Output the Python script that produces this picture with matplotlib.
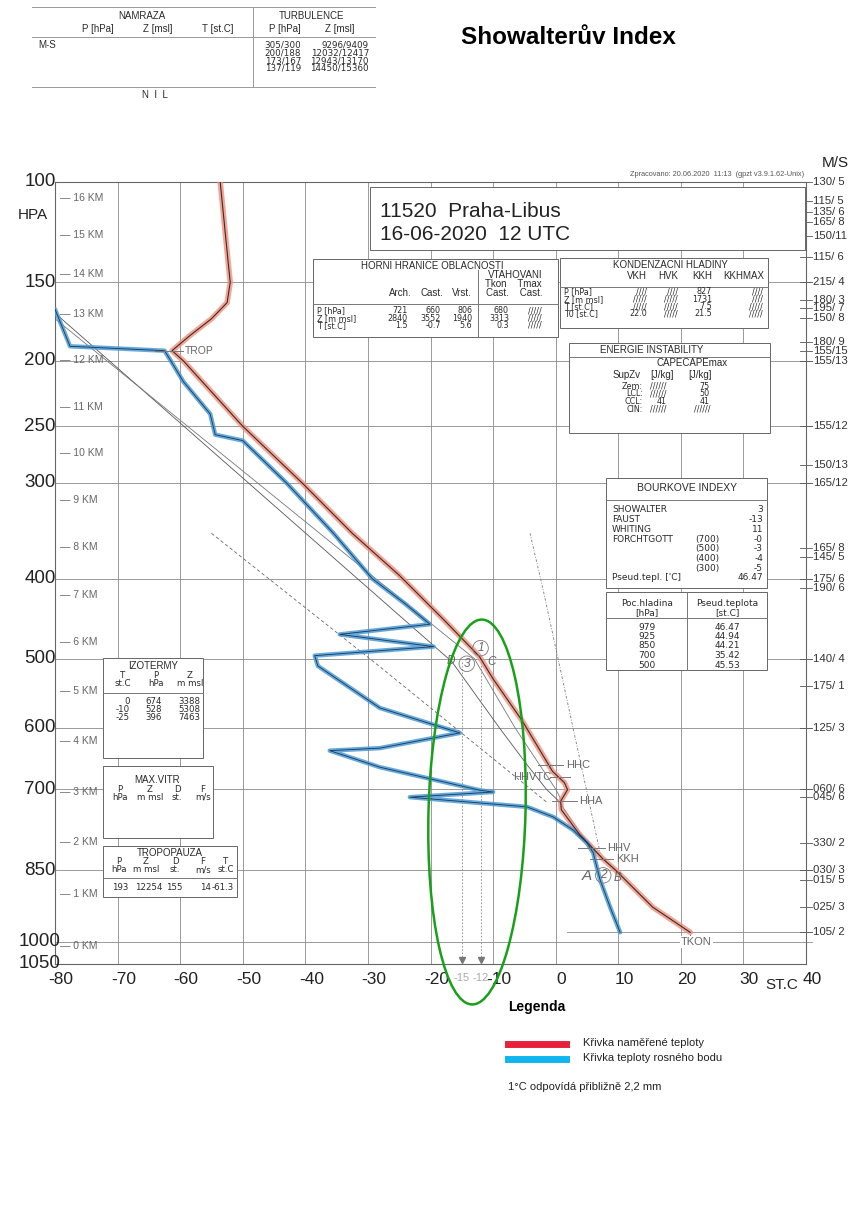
import numpy as np
import matplotlib
matplotlib.use("Agg")
import matplotlib.pyplot as plt
import matplotlib.transforms as mtransforms
from matplotlib.patches import Rectangle, Ellipse
from matplotlib.lines import Line2D
from matplotlib.font_manager import FontProperties

plt.rcParams['font.family'] = ['Liberation Sans', 'DejaVu Sans']

W, H = 848, 1207

# ---------------- sounding data ----------------
temp_p = [100, 140, 150, 162, 172, 183, 193, 200, 250, 300, 350, 396, 450, 497,
          528, 590, 670, 689, 701, 721, 736, 781, 827, 850, 925, 979]
temp_t = [-53.6, -52.3, -52.0, -52.5, -55.0, -58.5, -61.3, -59.5, -50.0, -40.5,
          -32.5, -25.0, -17.8, -12.2, -10.0, -5.3, -0.5, 1.4, 1.9, 0.8, 0.9, 3.8,
          7.5, 9.6, 15.5, 21.5]

dew_p = [166, 190, 193, 200, 215, 240, 257, 262, 300, 350, 400, 430, 455, 468,
         484, 496, 510, 570, 608, 632, 636, 663, 702, 705, 714, 731, 749, 773,
         797, 816, 869, 925, 979]
dew_t = [-80.0, -77.6, -62.5, -61.5, -59.5, -55.2, -54.4, -50.0, -43.0, -35.5,
         -29.3, -24.0, -20.1, -34.5, -19.5, -38.5, -38.0, -28.1, -15.3, -28.1,
         -36.1, -28.1, -12.1, -10.0, -23.3, -4.6, -0.4, 2.8, 5.0, 6.0, 7.1, 8.7,
         10.3]

# parcel / adiabat construction lines
pl1_p = [163, 504, 600, 660, 700, 721, 780, 827, 850]
pl1_t = [-81.6, -16.6, -9.0, -4.5, -1.5, 0.5, 4.0, 7.5, 9.6]
pl2_p = [172, 500, 600, 700, 721]
pl2_t = [-80.0, -13.0, -6.5, 0.0, 1.0]
pl3_p = [350, 511, 723]
pl3_t = [-55.0, -28.1, -1.4]
pl4_p = [350, 413, 816]
pl4_t = [-4.1, -2.0, 7.1]

# axes labelling
p_ticks = [100, 150, 200, 250, 300, 400, 500, 600, 700, 850, 1000, 1050]
p_grid = [150, 200, 250, 300, 400, 500, 600, 700, 850, 1000]
t_ticks = list(range(-80, 41, 10))
km_vals = list(range(0, 17))
km_p = [1009, 898, 795, 705, 621, 545, 478, 419, 365, 316, 273, 234.5, 199.5,
        169, 145.4, 124.6, 107.1]

wind_p = [100, 108.5, 113.6, 118.3, 125.2, 136.1, 150, 160.5, 165.3, 171.5,
          187.2, 193.3, 200, 250, 283.4, 300, 365.6, 375.4, 400, 411, 500,
          537.9, 600, 700, 713.6, 797, 850, 869, 924.8, 979]
wind_lbl = ['130/ 5', '115/ 5', '135/ 6', '165/ 8', '150/11', '115/ 6', '215/ 4',
            '180/ 3', '195/ 7', '150/ 8', '180/ 9', '155/15', '155/13', '155/12',
            '150/13', '165/12', '165/ 8', '145/ 5', '175/ 6', '190/ 6', '140/ 4',
            '175/ 1', '125/ 3', '060/ 6', '045/ 6', '330/ 2', '030/ 3', '015/ 5',
            '025/ 3', '105/ 2']

# cloud / condensation level markers (pressure, label, tick extent, label side)
lvl_p = [660, 680, 721, 806, 827]
lvl_name = ['HHC', 'HHVTC', 'HHA', 'HHV', 'KKH']
lvl_t0 = [-2.8, -0.9, -0.6, 3.6, 5.5]
lvl_t1 = [1.2, 2.3, 3.4, 7.9, 9.2]
lvl_side = ['right', 'left', 'right', 'right', 'right']

# Showalter construction: parcel and environment at 500 hPa
sw_t = [-15, -12]

# ---------------- figure ----------------
fig = plt.figure(figsize=(W / 100, H / 100), dpi=100)
fig.patch.set_facecolor('white')
renderer = fig.canvas.get_renderer()

ax_l, ax_r, ax_t, ax_b = 55, 806, 182, 964
ax = fig.add_axes([ax_l / W, 1 - ax_b / H, (ax_r - ax_l) / W, (ax_b - ax_t) / H])

fwd = lambda p: np.sign(p) * np.abs(p) ** 0.286
inv = lambda s: np.sign(s) * np.abs(s) ** (1 / 0.286)
ax.set_yscale('function', functions=(fwd, inv))
ax.set_ylim(1050, 100)
ax.set_xlim(-80, 40)
ax.set_xticks([])
ax.set_yticks([])
ax.yaxis.set_minor_locator(matplotlib.ticker.NullLocator())
for s in ax.spines.values():
    s.set_color('#666666')
    s.set_linewidth(0.8)

GRID = '#8a8a8a'
for t in t_ticks[1:-1]:
    ax.axvline(t, color=GRID, lw=0.6, zorder=1)
ytr = ax.get_yaxis_transform()
for p in p_grid:
    ax.plot([0, 1.008], [p, p], color=GRID, lw=0.6, transform=ytr, clip_on=False, zorder=1)
# surface wind level line
ax.plot([(567 - ax_l) / (ax_r - ax_l), 1.008], [979, 979], color=GRID, lw=0.6,
        transform=ytr, clip_on=False, zorder=1)

# wind ticks and labels on the right
for p, lab in zip(wind_p, wind_lbl):
    ax.plot([0.992, 1.008], [p, p], color='#555555', lw=0.6, transform=ytr, clip_on=False)
    ax.text(1.009, p, lab, transform=ytr, fontsize=8.2, color='#333333', va='center', ha='left')

# pressure labels on the left
for p in p_ticks:
    ax.text((40 - ax_l) / (ax_r - ax_l), p, str(p), transform=ytr, fontsize=13.5,
            ha='center', va='center', color='#222222')
ax.text(-0.03, (ax_b - 215) / (ax_b - ax_t), 'HPA', transform=ax.transAxes, fontsize=11,
        ha='center', va='center', color='#222222')

# height labels inside the diagram
for k, p in zip(km_vals, km_p):
    ax.text(0.007, p, '\u2014 %d KM' % k, transform=ytr, fontsize=7.5, color='#666666',
            va='center', ha='left')

# temperature labels at the bottom
xtr = ax.get_xaxis_transform() + mtransforms.ScaledTranslation(6 / 100, 0, fig.dpi_scale_trans)
for t in t_ticks:
    ax.text(t, -(980 - ax_b) / (ax_b - ax_t), str(t), transform=xtr, fontsize=12.5,
            ha='center', va='center', color='#222222')
fig.text(765 / W, 1 - 985 / H, 'ST.C', fontsize=11, ha='left', va='center', color='#222222')
fig.text(835 / W, 1 - 163 / H, 'M/S', fontsize=11, ha='center', va='center', color='#222222')

# construction lines
ax.plot(pl1_t, pl1_p, color='#555555', lw=0.6, zorder=2)
ax.plot(pl2_t, pl2_p, color='#777777', lw=0.6, zorder=2)
ax.plot(pl3_t, pl3_p, color='#666666', lw=0.6, ls=(0, (4, 3)), zorder=2)
ax.plot(pl4_t, pl4_p, color='#777777', lw=0.6, ls=(0, (3, 2, 1, 2)), zorder=2)

# sounding curves: hand-coloured highlight over the printed line
ax.plot(temp_t, temp_p, color='#f0907c', lw=4.0, alpha=0.8, zorder=3, solid_capstyle='round')
ax.plot(temp_t, temp_p, color='#3a2a2a', lw=0.8, zorder=4)
ax.plot(dew_t, dew_p, color='#4a9bd8', lw=3.2, alpha=0.85, zorder=3, solid_capstyle='round')
ax.plot(dew_t, dew_p, color='#1f3550', lw=0.6, zorder=4)

# tropopause marker
ax.plot([-64.0, -59.6], [193, 193], color='#777777', lw=0.7, zorder=4)
ax.text(-59.3, 193, 'TROP', fontsize=7.5, color='#666666', va='center', ha='left')

# level markers
for p, name, t0, t1, side in zip(lvl_p, lvl_name, lvl_t0, lvl_t1, lvl_side):
    ax.plot([t0, t1], [p, p], color='#777777', lw=0.7, zorder=4)
    if side == 'right':
        ax.text(t1 + 0.4, p, name, fontsize=8, color='#666666', va='center', ha='left', zorder=4)
    else:
        ax.text(t0 + 0.2, p, name, fontsize=8, color='#666666', va='center', ha='right', zorder=4)
ax.plot([21.5, 21.5], [985, 1000], color='#777777', lw=0.7, zorder=4)
ax.text(22.5, 1000, 'TKON', fontsize=8, color='#666666', va='center', ha='center', zorder=5,
        bbox=dict(fc='white', ec='none', pad=0.5))

# Showalter construction: verticals from 500 hPa down to the axis
for t in sw_t:
    ax.plot([t, t], [505, 1040], color='#888888', lw=0.6, ls=(0, (2, 2)), zorder=2)
    ax.plot([t], [1040], marker='v', color='#777777', ms=4, zorder=2)
    ax.text(t, -(978 - ax_b) / (ax_b - ax_t), str(t), transform=ax.get_xaxis_transform(),
            fontsize=8, color='#aaaaaa', ha='center', va='center')
hand = dict(fontsize=8.5, color='#666666', ha='center', va='center', style='italic', zorder=5)
circ = dict(boxstyle='circle,pad=0.15', fc='none', ec='#777777', lw=0.6)
ax.text(-16.8, 503, 'D', **hand)
ax.text(-14.2, 507, '3', bbox=circ, **hand)
ax.text(-12.0, 486, '1', bbox=circ, **hand)
ax.text(-10.2, 505, 'C', **hand)
ax.text(5.0, 862, 'A', fontsize=11, color='#666666', ha='center', va='center', style='italic')
ax.text(7.6, 860, '2', bbox=circ, **hand)
ax.text(9.9, 866, 'B', **hand)


# ---------------- helpers in page pixels ----------------
BODY = ['DejaVu Sans']


def ftxt(x, y, s, size=7, ha='left', va='center', color='#2a2a2a', **kw):
    fig.text(x / W, 1 - y / H, s, fontsize=size, ha=ha, va=va, color=color, zorder=7, **kw)


def fcol(x, y0, lines, dy, size=5.8, ha='right', color='#2a2a2a', family=BODY):
    """Column of table cells as one multi-line text; rows centred at y0, y0+dy, ..."""
    fp = FontProperties(family=family, size=size)
    _, h, d = renderer.get_text_width_height_descent('lp', fp, ismath=False)
    yc = y0 + (len(lines) - 1) * dy / 2
    fig.text(x / W, 1 - yc / H, '\n'.join(lines), fontsize=size, ha=ha, va='center',
             linespacing=(dy - d) / (h - d), color=color, zorder=7, family=family)


def fbox(x0, y0, x1, y1, ec='#666666'):
    fig.add_artist(Rectangle((x0 / W, 1 - y1 / H), (x1 - x0) / W, (y1 - y0) / H,
                             transform=fig.transFigure, fc='white', ec=ec, lw=0.7, zorder=6))


def fline(x0, y0, x1, y1, color='#777777', lw=0.7):
    fig.add_artist(Line2D([x0 / W, x1 / W], [1 - y0 / H, 1 - y1 / H], transform=fig.transFigure,
                          color=color, lw=lw, zorder=7))


# title
ftxt(568, 37, 'Showalterův Index', size=17.5, ha='center', color='black', weight='bold')

# icing / turbulence table
fline(32, 7, 375, 7, color='#999999')
fline(32, 37, 375, 37, color='#999999')
fline(32, 87, 375, 87, color='#999999')
fline(253, 7, 253, 87, color='#999999')
ftxt(142, 16, 'NAMRAZA', ha='center', size=7)
ftxt(98, 29, 'P [hPa]', ha='center', size=7)
ftxt(158, 29, 'Z [msl]', ha='center', size=7)
ftxt(218, 29, 'T [st.C]', ha='center', size=7)
ftxt(312, 16, 'TURBULENCE', ha='center', size=7)
ftxt(285, 29, 'P [hPa]', ha='center', size=7)
ftxt(340, 29, 'Z [msl]', ha='center', size=7)
ftxt(38, 45, 'M-S', size=7)
turb_p = ['305/300', '200/188', '173/167', '137/119']
turb_z = ['9296/9409', '12032/12417', '12943/13170', '14450/15360']
fcol(301, 45, turb_p, 7.8, size=6.3)
fcol(369, 45, turb_z, 7.8, size=6.3)
ftxt(155, 95, 'N  I  L', ha='center', size=7)

ftxt(804, 175, 'Zpracovano: 20.06.2020  11:13  (gpzt v3.9.1.62-Unix)', size=5.3, ha='right',
     color='#555555')

# station box
fbox(370, 187, 805, 250)
ftxt(380, 211, '11520  Praha-Libus', size=15, color='#222222')
ftxt(380, 235, '16-06-2020  12 UTC', size=15, color='#222222')

# upper cloud boundary box
fbox(313, 259, 558, 337)
fline(313, 304, 558, 304)
fline(478, 270, 478, 337)
ftxt(432, 266, 'HORNI HRANICE OBLACNOSTI', ha='center')
fcol(542, 275, ['VTAHOVANI', 'Tkon    Tmax', 'Cast.    Cast.'], 8.8, size=7, ha='right',
     family=plt.rcParams['font.family'])
for x, s in zip([400, 432, 462], ['Arch.', 'Cast.', 'Vrst.']):
    ftxt(x, 293, s, ha='center')
hh_rows = ['P [hPa]', 'Z [m msl]', 'T [st.C]']
hh_cols = [['721', '2840', '1.5'], ['660', '3552', '-0.7'], ['806', '1940', '5.6'],
           ['680', '3313', '0.3'], ['/////', '/////', '/////']]
fcol(317, 311, hh_rows, 7.2, ha='left')
for x, col in zip([408, 441, 472, 509, 542], hh_cols):
    fcol(x, 311, col, 7.2)

# condensation levels box
fbox(560, 258, 768, 328)
fline(560, 287, 768, 287)
ftxt(670, 265, 'KONDENZACNI HLADINY', ha='center')
for x, s in zip([647, 678, 712, 764], ['VKH', 'HVK', 'KKH', 'KKHMAX']):
    ftxt(x, 276, s, ha='right')
kh_rows = ['P [hPa]', 'Z [m msl]', 'T [st.C]', 'T0 [st.C]']
kh_cols = [['////', '/////', '/////', '22.0'], ['////', '/////', '/////', '/////'],
           ['827', '1731', '7.5', '21.5'], ['////', '////', '/////', '/////']]
fcol(564, 292, kh_rows, 7.3, ha='left')
for x, col in zip([647, 678, 712, 763], kh_cols):
    fcol(x, 292, col, 7.3)

# instability energy box
fbox(569, 343, 770, 433)
fline(569, 357, 770, 357)
ftxt(652, 350, 'ENERGIE INSTABILITY', ha='center')
ftxt(692, 363, 'CAPECAPEmax', ha='center')
ftxt(627, 375, 'SupZv', ha='center')
ftxt(662, 375, '[J/kg]', ha='center')
ftxt(700, 375, '[J/kg]', ha='center')
en_rows = ['Zem:', 'LCL:', 'CCL:', 'CIN:']
en_c1 = ['//////', '//////', '41', '//////']
en_c2 = ['75', '50', '41', '//////']
fcol(643, 386, en_rows, 7.7)
fcol(667, 386, en_c1, 7.7)
fcol(710, 386, en_c2, 7.7)

# thunderstorm indices box
fbox(606, 478, 767, 588)
fline(606, 500, 767, 500)
ftxt(687, 488, 'BOURKOVE INDEXY', ha='center', size=7.5)
bi_lab = ['SHOWALTER', 'FAUST', 'WHITING', 'FORCHTGOTT', '', '', '', "Pseud.tepl. ['C]"]
bi_mid = ['', '', '', '(700)', '(500)', '(400)', '(300)', '']
bi_val = ['3', '-13', '11', '-0', '-3', '-4', '-5', '46.47']
fcol(612, 510, bi_lab, 9.7, size=6.5, ha='left')
fcol(707, 510, bi_mid, 9.7, size=6.5, ha='center')
fcol(763, 510, bi_val, 9.7, size=6.5)

# pseudo-potential temperature table
fbox(606, 592, 767, 670)
fline(606, 618, 767, 618)
fline(687, 592, 687, 670)
fcol(647, 603, ['Poc.hladina', '[hPa]'], 9.5, size=6.5, ha='center')
fcol(727, 603, ['Pseud.teplota', '[st.C]'], 9.5, size=6.5, ha='center')
ps_lev = ['979', '925', '850', '700', '500']
ps_val = ['46.47', '44.94', '44.21', '35.42', '45.53']
fcol(647, 627, ps_lev, 9.5, size=6.5, ha='center')
fcol(727, 627, ps_val, 9.5, size=6.5, ha='center')

# isotherms box
fbox(103, 658, 203, 758)
fline(103, 693, 203, 693)
ftxt(153, 666, 'IZOTERMY', ha='center', size=7)
for x, a, b in zip([123, 156, 190], ['T', 'P', 'Z'], ['st.C', 'hPa', 'm msl']):
    fcol(x, 676, [a, b], 8, size=6.2, ha='center')
iz_t = ['0', '-10', '-25']
iz_p = ['674', '528', '396']
iz_z = ['3388', '5308', '7463']
fcol(130, 702, iz_t, 7.5, size=6.2)
fcol(162, 702, iz_p, 7.5, size=6.2)
fcol(200, 702, iz_z, 7.5, size=6.2)

# max wind box
fbox(103, 766, 213, 838)
ftxt(157, 780, 'MAX.VITR', ha='center', size=7)
for x, a, b in zip([120, 150, 177, 203], ['P', 'Z', 'D', 'F'], ['hPa', 'm msl', 'st.', 'm/s']):
    fcol(x, 789, [a, b], 8, size=6.2, ha='center')

# tropopause box
fbox(103, 846, 237, 897)
fline(103, 878, 237, 878)
ftxt(170, 853, 'TROPOPAUZA', ha='center', size=7)
tp_x = [119, 146, 175, 203, 226]
for x, a, b in zip(tp_x, ['P', 'Z', 'D', 'F', 'T'], ['hPa', 'm msl', 'st.', 'm/s', 'st.C']):
    fcol(x, 862, [a, b], 8, size=6.2, ha='center')
tp_vals = ['193', '12254', '155', '14', '-61.3']
tp_right = [128, 163, 183, 211, 234]
for x, s in zip(tp_right, tp_vals):
    ftxt(x, 887, s, ha='right', size=6.2, family=BODY)

# green ellipse drawn around the 500 hPa construction
fig.add_artist(Ellipse((477 / 100, (H - 812) / 100), 97 / 100, 385 / 100, angle=-1.5,
                       transform=fig.dpi_scale_trans, fill=False, ec='#19a019', lw=1.8, zorder=8))

# legend
ftxt(508, 1007, 'Legenda', size=10, color='black', weight='bold')
fline(508, 1044, 566, 1044, color='#e8213b', lw=5)
fline(508, 1059, 566, 1059, color='#10b4ef', lw=5)
ftxt(583, 1043, 'Křivka naměřené teploty', size=8, color='#222222')
ftxt(583, 1058, 'Křivka teploty rosného bodu', size=8, color='#222222')
ftxt(508, 1087, '1°C odpovídá přibližně 2,2 mm', size=8, color='#222222')

fig.savefig('out.png', dpi=100, facecolor='white')
